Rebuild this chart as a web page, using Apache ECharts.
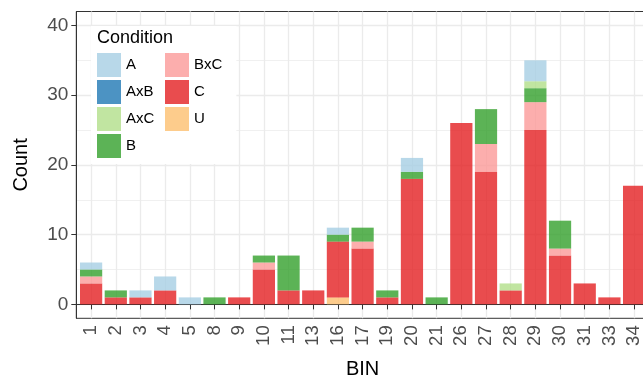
<!DOCTYPE html>
<html>
<head>
<meta charset="utf-8">
<script src="https://cdn.jsdelivr.net/npm/echarts@6/dist/echarts.min.js"></script>
<style>
html,body{margin:0;padding:0;background:#fff;}
#c{width:643px;height:380px;}
</style>
</head>
<body>
<div id="c"></div>
<script>
// ---- data ----
var bins = ['1','2','3','4','5','8','9','10','11','13','16','17','19','20','21','26','27','28','29','30','31','33','34'];
var legendCol1 = ['A','AxB','AxC','B'];
var legendCol2 = ['BxC','C','U'];
var valA   = [1,0,1,2,1,0,0,0,0,0,1,0,0,2,0,0,0,0,3,0,0,0,0];
var valAxB = [0,0,0,0,0,0,0,0,0,0,0,0,0,0,0,0,0,0,0,0,0,0,0];
var valAxC = [0,0,0,0,0,0,0,0,0,0,0,0,0,0,0,0,0,1,1,0,0,0,0];
var valB   = [1,1,0,0,0,1,0,1,5,0,1,2,1,1,1,0,5,0,2,4,0,0,0];
var valBxC = [1,0,0,0,0,0,0,1,0,0,0,1,0,0,0,0,4,0,4,1,0,0,0];
var valC   = [3,1,1,2,0,0,1,5,2,2,8,8,1,18,0,26,19,2,25,7,3,1,17];
var valU   = [0,0,0,0,0,0,0,0,0,0,1,0,0,0,0,0,0,0,0,0,0,0,0];
var yMajorTicks = [0,10,20,30,40];
var yMinorTicks = [5,15,25,35];

var colors = {
  A:'rgba(166,206,227,0.8)', AxB:'rgba(31,120,180,0.8)', AxC:'rgba(178,223,138,0.8)',
  B:'rgba(51,160,44,0.8)', BxC:'rgba(251,154,153,0.8)', C:'rgba(227,26,28,0.78)', U:'rgba(253,191,111,0.8)'
};
var values = {A:valA, AxB:valAxB, AxC:valAxC, B:valB, BxC:valBxC, C:valC, U:valU};
// stacking order bottom -> top (ggplot stacks first level on top)
var stackOrder = ['U','C','BxC','B','AxC','AxB','A'];
var xPos = bins.map(function(b,i){return i+1;});

var font = 'Liberation Sans, Arial, Helvetica, sans-serif';
var series = stackOrder.map(function(name){
  return {
    name: name, type: 'bar', stack: 'all', barWidth: '90%',
    encode: {x: 1, y: 0},
    itemStyle: {color: colors[name]},
    emphasis: {disabled: true},
    // [count, position] so that the count dimension is the stacked one
    data: values[name].map(function(v,i){return [v, xPos[i]];})
  };
});

var legendText = {fontFamily: font, fontSize: 15, color: '#000'};
var chart = echarts.init(document.getElementById('c'), null, {renderer:'canvas'});
chart.setOption({
  animation: false,
  backgroundColor: '#fff',
  textStyle: {fontFamily: font},
  title: {
    text: 'Condition', left: 97, top: 29, padding: 0,
    textStyle: {fontFamily: font, fontSize: 18, fontWeight: 'normal', color: '#000'}
  },
  legend: [{
    data: legendCol1, orient: 'vertical', left: 91, top: 26,
    padding: [27, 82, 6, 6], backgroundColor: '#fff',
    itemWidth: 24, itemHeight: 24, itemGap: 3, icon: 'rect',
    textStyle: legendText, selectedMode: false, z: 4
  }, {
    data: legendCol2, orient: 'vertical', left: 160, top: 27,
    padding: [26, 5, 5, 5],
    itemWidth: 24, itemHeight: 24, itemGap: 3, icon: 'rect',
    textStyle: legendText, selectedMode: false, z: 5
  }],
  grid: {
    left: 76.3, right: -5.9, top: 11.5, bottom: 61.7,
    show: true, borderColor: '#333', borderWidth: 1, backgroundColor: 'transparent',
    containLabel: false, outerBoundsMode: 'none'
  },
  xAxis: {
    type: 'value', min: 0.4, max: 23.6,
    name: 'BIN', nameLocation: 'middle', nameGap: 41,
    nameTextStyle: {fontFamily: font, fontSize: 20, color: '#000'},
    axisLine: {show: true, lineStyle: {color: '#333', width: 1}},
    axisTick: {show: true, length: 5, lineStyle: {color: '#333'}, customValues: xPos},
    axisLabel: {
      customValues: xPos, rotate: 90, margin: 7, fontSize: 18.5, color: '#4d4d4d', fontFamily: font,
      formatter: function(v){ return bins[Math.round(v)-1]; }
    },
    splitLine: {show: true, lineStyle: {color: '#ebebeb', width: 1.3}}
  },
  yAxis: [{
    type: 'value', min: -2, max: 42,
    name: 'Count', nameLocation: 'middle', nameGap: 45, nameRotate: 90,
    nameTextStyle: {fontFamily: font, fontSize: 20, color: '#000'},
    axisLine: {show: true, lineStyle: {color: '#333', width: 1}},
    axisTick: {show: true, length: 5, lineStyle: {color: '#333'}, customValues: yMajorTicks},
    axisLabel: {customValues: yMajorTicks, margin: 8, fontSize: 19, color: '#4d4d4d', fontFamily: font},
    splitLine: {show: true, lineStyle: {color: '#ebebeb', width: 1.3}}
  }, {
    type: 'value', min: -2, max: 42, position: 'left',
    axisLine: {show: false}, axisTick: {show: false, customValues: yMinorTicks},
    axisLabel: {show: false, customValues: yMinorTicks},
    splitLine: {show: true, lineStyle: {color: '#f0f0f0', width: 1}}
  }],
  series: series
});
</script>
</body>
</html>
